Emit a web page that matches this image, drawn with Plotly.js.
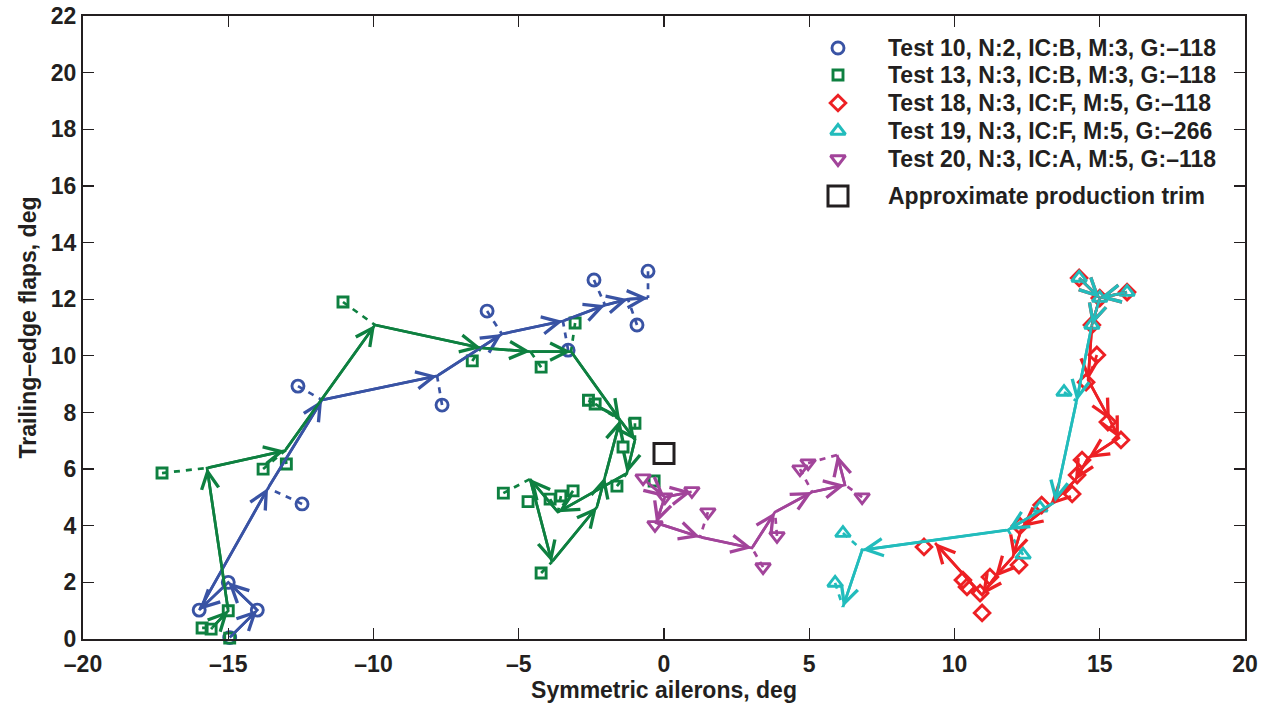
<!DOCTYPE html>
<html><head><meta charset="utf-8">
<script src="https://cdn.plot.ly/plotly-3.0.1.min.js"></script>
<style>html,body{margin:0;padding:0;background:#fff}#chart{width:1270px;height:706px}</style>
</head><body><div id="chart"></div>
<script>
// ---------- data (deg) ----------
// Test 10
const t10PathX = [-14.95, -14.0, -15.0, -16.0, -13.63, -11.77, -7.81, -5.58, -3.48, -2.03, -1.24, -0.55];
const t10PathY = [0.05, 1.02, 2.0, 1.02, 5.33, 8.44, 9.29, 10.77, 11.23, 11.79, 12.0, 12.04];
const t10PtX = [-14.95, -14.0, -15.0, -16.0, -12.46, -12.6, -7.64, -6.09, -3.3, -2.41, -0.93, -0.55];
const t10PtY = [0.05, 1.02, 2.0, 1.02, 4.77, 8.93, 8.26, 11.58, 10.2, 12.68, 11.09, 12.99];
const t10PtLink = [-1, -1, -1, -1, 4, 5, 6, 7, 8, 9, 10, 11];

// Test 13
const t13PathX = [-15.55, -15.0, -15.73, -13.05, -9.95, -6.3, -4.6, -3.2, -1.51, -1.0, -1.28, -3.65, -4.61, -3.86, -2.31, -2.03, -1.51];
const t13PathY = [0.4, 1.0, 6.04, 6.65, 11.09, 10.28, 10.15, 10.15, 7.73, 7.03, 5.85, 4.48, 5.65, 2.72, 4.66, 5.72, 7.73];
const t13PtX = [-15.9, -15.59, -14.95, -15.0, -17.28, -13.8, -13.0, -11.05, -6.6, -4.23, -3.06, -2.6, -2.37, -1.0, -1.41, -1.62, -0.34, -5.53, -4.68, -3.92, -3.55, -3.13, -4.23];
const t13PtY = [0.39, 0.35, 0.03, 1.0, 5.86, 6.0, 6.18, 11.9, 9.82, 9.6, 11.16, 8.43, 8.3, 7.62, 6.78, 5.4, 5.58, 5.15, 4.85, 4.94, 5.05, 5.23, 2.33];
const t13PtLink = [0, 0, -1, -1, 2, 3, 3, 4, 5, 6, 7, 8, 8, 9, -1, 10, -1, 12, -1, 11, 11, 11, 13];

// Test 18
const t18PathX = [14.29, 15.0, null, 15.94, 15.0, 14.73, 14.6, 15.35, 15.66, 14.6, 14.15, 13.29, 12.32, 12.01, 11.39, 10.95, 9.33];
const t18PathY = [12.75, 12.04, null, 12.25, 12.04, 11.09, 9.15, 7.73, 7.1, 6.39, 5.6, 4.73, 3.95, 2.9, 2.19, 1.55, 3.39];
const t18PtX = [14.29, 15.0, 15.94, 14.73, 14.9, 14.53, 15.28, 15.73, 14.39, 14.22, 14.05, 13.0, 12.25, 12.22, 11.22, 10.29, 10.43, 10.88, 10.95, 8.95];
const t18PtY = [12.75, 12.04, 12.25, 11.09, 10.03, 9.07, 7.66, 7.03, 6.32, 5.79, 5.12, 4.73, 3.99, 2.61, 2.19, 2.08, 1.84, 1.62, 0.92, 3.25];
const t18PtLink = [-1, -1, -1, -1, 6, -1, -1, -1, -1, -1, -1, -1, -1, -1, -1, -1, -1, -1, -1, -1];

// Test 19
const t19PathX = [14.29, 15.0, null, 15.94, 15.0, 14.73, 14.2, 13.46, 11.84, 6.82, 6.16];
const t19PathY = [12.75, 12.04, null, 12.25, 12.04, 11.09, 8.4, 4.84, 3.85, 3.14, 1.13];
const t19PtX = [14.29, 15.0, 15.94, 14.73, 13.77, 12.94, 12.36, 6.16, 5.89];
const t19PtY = [12.75, 12.04, 12.25, 11.09, 8.72, 4.63, 2.97, 3.74, 1.98];
const t19PtLink = [-1, -1, -1, -1, 6, -1, 8, 9, 10];

// Test 20
const t20PathX = [-0.6, 0.03, 0.95, null, 0.03, -0.27, 1.24, 3.03, 3.82, 5.1, 6.23, 5.96];
const t20PathY = [5.55, 5.01, 5.2, null, 5.01, 4.1, 3.6, 3.21, 4.48, 5.19, 5.44, 6.5];
const t20PtX = [-0.72, 0.03, 0.96, -0.31, 1.51, 3.41, 3.89, 4.68, 4.96, 6.82];
const t20PtY = [5.68, 5.01, 5.23, 4.03, 4.48, 2.54, 3.64, 6.0, 6.21, 5.01];
const t20PtLink = [-1, -1, -1, -1, 6, 7, 8, 9, 11, 10];

// Approximate production trim
const trimX = [0];
const trimY = [6.55];

const legendNames = [
  'Test 10, N:2, IC:B, M:3, G:\u2013118',
  'Test 13, N:3, IC:B, M:3, G:\u2013118',
  'Test 18, N:3, IC:F, M:5, G:\u2013118',
  'Test 19, N:3, IC:F, M:5, G:\u2013266',
  'Test 20, N:3, IC:A, M:5, G:\u2013118',
  'Approximate production trim'
];

const xTickVals = [-20, -15, -10, -5, 0, 5, 10, 15, 20];
const xTickText = ['\u201320', '\u201315', '\u201310', '\u20135', '0', '5', '10', '15', '20'];
const yTickVals = [0, 2, 4, 6, 8, 10, 12, 14, 16, 18, 20, 22];

// ---------- build ----------
const FONT = 'Liberation Sans, Arial, Helvetica, sans-serif';
const INK = '#231f20';
const traces = [];
const annotations = [];
const legendTraces = [];

// legend key placement (pixel layout, on an overlay axis that maps 1:1 to pixels)
const KEY_X = 838, TEXT_X = 886;
const KEY_Y = [48, 75, 103, 131, 159, 196];

function addLegendEntry(i, symbol, size, color, lw) {
  legendTraces.push({x: [KEY_X], y: [KEY_Y[i]], xaxis: 'x2', yaxis: 'y2', mode: 'markers', type: 'scatter',
    showlegend: false, hoverinfo: 'skip', cliponaxis: false,
    marker: {symbol: symbol, size: size, color: color, line: {color: color, width: lw}}});
  annotations.push({xref: 'paper', yref: 'paper', x: (TEXT_X - 83) / 1162, y: (639 - KEY_Y[i]) / 623,
    xanchor: 'left', yanchor: 'middle', showarrow: false, text: legendNames[i],
    font: {family: FONT, size: 23, color: INK, weight: 'bold'}});
}

function addTest(idx, color, symbol, size, px, py, mx, my, link) {
  const dx = [], dy = [];
  for (let i = 0; i < mx.length; i++) {
    if (link[i] >= 0) { dx.push(mx[i], px[link[i]], null); dy.push(my[i], py[link[i]], null); }
  }
  traces.push({x: dx, y: dy, mode: 'lines', type: 'scatter', showlegend: false, hoverinfo: 'skip',
    line: {color: color, width: 2.7, dash: '6px,6px'}});
  traces.push({x: px, y: py, mode: 'lines', type: 'scatter', showlegend: false, connectgaps: false,
    line: {color: color, width: 2.7}});
  traces.push({x: mx, y: my, mode: 'markers', type: 'scatter', name: legendNames[idx], showlegend: false,
    cliponaxis: false,
    marker: {symbol: symbol, size: size, color: color, line: {color: color, width: 2.9}}});
  for (let i = 0; i < px.length - 1; i++) {
    if (px[i] === null || px[i + 1] === null) continue;
    annotations.push({x: px[i + 1], y: py[i + 1], ax: px[i], ay: py[i],
      xref: 'x', yref: 'y', axref: 'x', ayref: 'y', text: '', showarrow: true,
      arrowhead: 5, arrowsize: 1.25, arrowwidth: 2.7, arrowcolor: color});
  }
  addLegendEntry(idx, symbol, size, color, 2.9);
}

addTest(0, '#3953a4', 'circle-open', 12, t10PathX, t10PathY, t10PtX, t10PtY, t10PtLink);
addTest(1, '#0e8040', 'square-open', 10, t13PathX, t13PathY, t13PtX, t13PtY, t13PtLink);
addTest(2, '#ed2024', 'diamond-open', 12, t18PathX, t18PathY, t18PtX, t18PtY, t18PtLink);
addTest(3, '#22bcbc', 'triangle-up-open', 13, t19PathX, t19PathY, t19PtX, t19PtY, t19PtLink);
addTest(4, '#a2449a', 'triangle-down-open', 13, t20PathX, t20PathY, t20PtX, t20PtY, t20PtLink);
traces.push({x: trimX, y: trimY, mode: 'markers', type: 'scatter', name: legendNames[5], showlegend: false,
  marker: {symbol: 'square-open', size: 20, color: INK, line: {color: INK, width: 3}}});
addLegendEntry(5, 'square-open', 20, INK, 3);

const axisCommon = {
  showgrid: false, zeroline: false, showline: true, linecolor: INK, linewidth: 2,
  mirror: 'ticks', ticks: 'inside', ticklen: 11, tickwidth: 1.2, tickcolor: INK,
  tickfont: {family: FONT, size: 23, color: INK, weight: 'bold'}
};

const layout = {
  width: 1270, height: 706,
  margin: {l: 83, r: 25, t: 16, b: 67},
  paper_bgcolor: '#fff', plot_bgcolor: '#fff',
  showlegend: false,
  xaxis: Object.assign({}, axisCommon, {range: [-20, 20], tickvals: xTickVals, ticktext: xTickText,
    ticklabelstandoff: 3,
    title: {text: 'Symmetric ailerons, deg', standoff: 5, font: {family: FONT, size: 23, color: INK, weight: 'bold'}}}),
  yaxis: Object.assign({}, axisCommon, {range: [0, 22], tickvals: yTickVals,
    title: {text: 'Trailing\u2013edge flaps, deg', standoff: 8, font: {family: FONT, size: 23, color: INK, weight: 'bold'}}}),
  xaxis2: {overlaying: 'x', range: [83, 1245], visible: false, fixedrange: true},
  yaxis2: {overlaying: 'y', range: [639, 16], visible: false, fixedrange: true},
  annotations: annotations
};

Plotly.newPlot('chart', traces.concat(legendTraces), layout, {displayModeBar: false, staticPlot: true});
</script></body></html>
